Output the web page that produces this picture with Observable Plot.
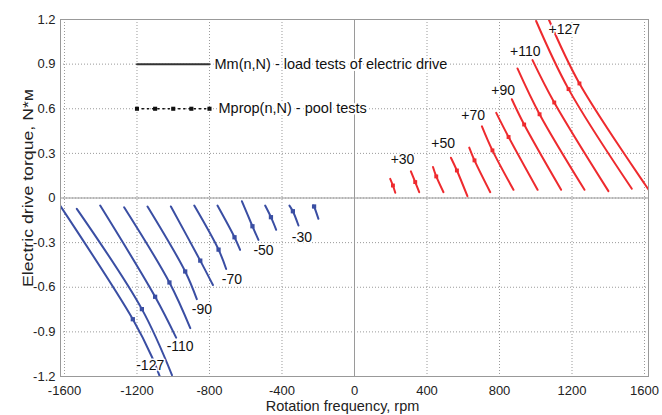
<!DOCTYPE html>
<html><head><meta charset="utf-8">
<script src="https://cdn.jsdelivr.net/npm/d3@7"></script>
<script src="https://cdn.jsdelivr.net/npm/@observablehq/plot@0.6"></script>
<style>body{margin:0;background:#fff;}</style>
</head><body><div id="chart"></div>
<script>
// Axis ticks
const xTicks = [-1600, -1200, -800, -400, 0, 400, 800, 1200, 1600];
const yTicks = [1.2, 0.9, 0.6, 0.3, 0, -0.3, -0.6, -0.9, -1.2];

// Positive rotation (red) curves: N = 20..127 (rpm, N*m)
const redSpeeds = [20, 30, 40, 50, 60, 70, 80, 90, 100, 110, 120, 127];
const redCurveN = [
  [197, 212, 225], [311, 335, 357], [433, 451, 491], [532, 565, 623],
  [633, 662, 749], [703, 761, 877], [782, 850, 1010], [868, 936, 1140],
  [899, 1021, 1269], [982, 1102, 1401], [1002, 1181, 1530], [1072, 1241, 1622]
];
const redCurveM = [
  [0.129, 0.084, 0.035], [0.179, 0.107, 0.039], [0.208, 0.145, 0.039], [0.271, 0.185, 0.012],
  [0.339, 0.253, 0.039], [0.482, 0.320, 0.055], [0.572, 0.410, 0.055], [0.664, 0.494, 0.055],
  [0.871, 0.563, 0.055], [0.927, 0.642, 0.046], [1.19, 0.732, 0.062], [1.20, 0.770, 0.057]
];
// Pool test points (red)
const redPoolN = [212, 335, 451, 565, 662, 761, 850, 936, 1021, 1102, 1181, 1241];
const redPoolM = [0.084, 0.107, 0.145, 0.185, 0.253, 0.320, 0.410, 0.494, 0.563, 0.642, 0.732, 0.770];

// Negative rotation (blue) curves: N = -127..-20
const blueSpeeds = [-127, -120, -110, -100, -90, -80, -70, -60, -50, -40, -30, -20];
const blueCurveN = [
  [-1624, -1223, -1118, -1073], [-1532, -1173, -1007], [-1403, -1100, -984], [-1271, -1021, -906],
  [-1142, -934, -870], [-1013, -851, -781], [-884, -750, -708], [-756, -662, -631],
  [-621, -563, -530], [-493, -461, -432], [-359, -340, -309], [-226, -223, -199]
];
const blueCurveM = [
  [-0.051, -0.815, -1.067, -1.204], [-0.073, -0.747, -1.19], [-0.051, -0.664, -0.939], [-0.062, -0.568, -0.875],
  [-0.057, -0.494, -0.680], [-0.057, -0.421, -0.585], [-0.051, -0.347, -0.477], [-0.051, -0.264, -0.349],
  [-0.022, -0.190, -0.282], [-0.051, -0.129, -0.214], [-0.051, -0.089, -0.185], [-0.051, -0.057, -0.140]
];
const bluePoolN = [-1223, -1173, -1100, -1021, -934, -851, -750, -662, -563, -461, -340, -223];
const bluePoolM = [-0.815, -0.747, -0.664, -0.568, -0.494, -0.421, -0.347, -0.264, -0.190, -0.129, -0.089, -0.057];

// Curve labels
const redLabelText = ["+30", "+50", "+70", "+90", "+110", "+127"];
const redLabelN = [265, 489, 655, 820, 942, 1157];
const redLabelM = [0.259, 0.367, 0.556, 0.725, 0.988, 1.136];
const blueLabelText = ["-127", "-110", "-90", "-70", "-50", "-30"];
const blueLabelN = [-1127, -962, -842, -676, -502, -290];
const blueLabelM = [-1.126, -1.0, -0.747, -0.545, -0.354, -0.264];

// Legend (drawn in data space as in the original)
const legendSolidN = [-1200, -800];
const legendSolidM = [0.9, 0.9];
const legendDotN = [-1200, -1100, -1000, -900, -800];
const legendDotM = [0.6, 0.6, 0.6, 0.6, 0.6];
const legendText = ["Mm(n,N) - load tests of electric drive", "Mprop(n,N) - pool tests"];
const legendTextN = [-800, -800];
const legendTextM = [0.9, 0.6];

const RED = "#ee2a2e";
const BLUE = "#3a4ea3";

function curveRows(speeds, Ns, Ms) {
  return speeds.flatMap((s, i) => Ns[i].map((n, j) => ({curve: s, n, M: Ms[i][j]})));
}
const redRows = curveRows(redSpeeds, redCurveN, redCurveM);
const blueRows = curveRows(blueSpeeds, blueCurveN, blueCurveM);
const redPool = redPoolN.map((n, i) => ({n, M: redPoolM[i]}));
const bluePool = bluePoolN.map((n, i) => ({n, M: bluePoolM[i]}));
const redLabels = redLabelText.map((t, i) => ({t, n: redLabelN[i], M: redLabelM[i]}));
const blueLabels = blueLabelText.map((t, i) => ({t, n: blueLabelN[i], M: blueLabelM[i]}));
const legendSolid = legendSolidN.map((n, i) => ({n, M: legendSolidM[i]}));
const legendDots = legendDotN.map((n, i) => ({n, M: legendDotM[i]}));
const legendLabels = legendText.map((t, i) => ({t, n: legendTextN[i], M: legendTextM[i]}));

const chart = Plot.plot({
  width: 662,
  height: 415,
  marginLeft: 60,
  marginRight: 14,
  marginTop: 19,
  marginBottom: 39,
  style: {fontFamily: "'Liberation Sans', Arial, sans-serif", fontSize: "13px", background: "white", color: "#222"},
  x: {domain: [-1622, 1622], ticks: xTicks, tickFormat: d => String(d), tickSize: 0, tickPadding: 9, label: null},
  y: {domain: [-1.2, 1.2], ticks: yTicks, tickFormat: d => String(d), tickSize: 0, tickPadding: 5, label: null},
  marks: [
    Plot.gridX(xTicks, {stroke: "#9a9a9a", strokeOpacity: 1, strokeDasharray: "1,2"}),
    Plot.gridY(yTicks, {stroke: "#9a9a9a", strokeOpacity: 1, strokeDasharray: "1,2"}),
    Plot.ruleX([0], {stroke: "#9a9a9a", strokeWidth: 1}),
    Plot.ruleY([0], {stroke: "#9a9a9a", strokeWidth: 1}),
    Plot.line(redRows, {x: "n", y: "M", z: "curve", stroke: RED, strokeWidth: 2, curve: "catmull-rom", clip: true}),
    Plot.line(blueRows, {x: "n", y: "M", z: "curve", stroke: BLUE, strokeWidth: 2, curve: "catmull-rom", clip: true}),
    Plot.dot(redPool, {x: "n", y: "M", symbol: "square", r: 2.2, fill: RED}),
    Plot.dot(bluePool, {x: "n", y: "M", symbol: "square", r: 2.4, fill: BLUE}),
    Plot.text(redLabels, {x: "n", y: "M", text: "t", fontSize: 14, fill: "#111", stroke: "white", strokeWidth: 3}),
    Plot.text(blueLabels, {x: "n", y: "M", text: "t", fontSize: 14, fill: "#111", stroke: "white", strokeWidth: 3}),
    Plot.line(legendSolid, {x: "n", y: "M", stroke: "#333", strokeWidth: 2}),
    Plot.line(legendDots, {x: "n", y: "M", stroke: "#111", strokeWidth: 1.5, strokeDasharray: "1.2,4"}),
    Plot.dot(legendDots, {x: "n", y: "M", symbol: "square", r: 2.3, fill: "#111"}),
    Plot.text(legendLabels.slice(0, 1), {x: "n", y: "M", text: "t", dx: 5, textAnchor: "start", fontSize: 14.5, fill: "#111", stroke: "white", strokeWidth: 4}),
    Plot.text(legendLabels.slice(1), {x: "n", y: "M", text: "t", dx: 9, textAnchor: "start", fontSize: 14.5, fill: "#111", stroke: "white", strokeWidth: 4}),
    Plot.text(["Rotation frequency, rpm"], {frameAnchor: "bottom", dy: 34, dx: -12, fontSize: 14.5, fill: "#222"}),
    Plot.text(["Electric drive torque, N*м"], {frameAnchor: "left", textAnchor: "middle", dx: -32, dy: -10, rotate: -90, fontSize: 15, fill: "#222"}),
    Plot.frame({stroke: "#999"})
  ]
});
document.getElementById("chart").appendChild(chart);
// stretch the vertical axis title to the length seen in the reference
d3.select(chart).selectAll("text").each(function() {
  if (this.textContent === "Electric drive torque, N*м") {
    this.setAttribute("textLength", 198);
    this.setAttribute("lengthAdjust", "spacingAndGlyphs");
  }
});
</script>
</body></html>
